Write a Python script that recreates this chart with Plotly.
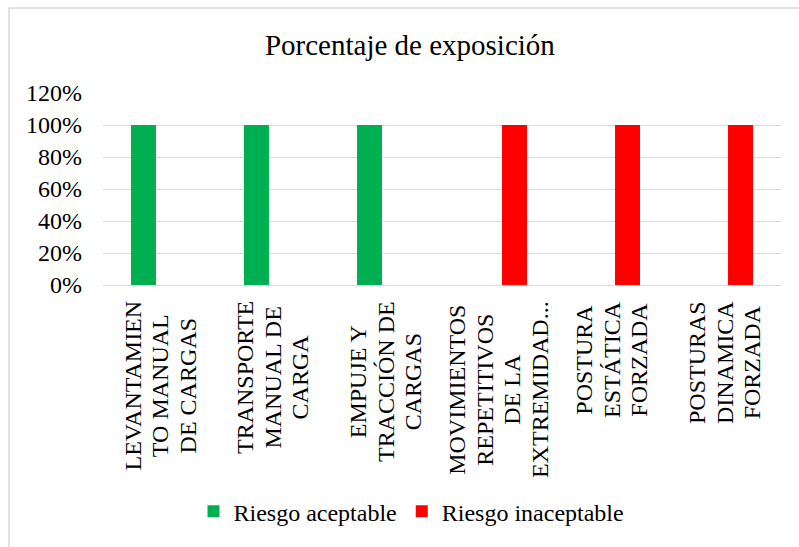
import plotly.graph_objects as go

categories = ["LEVANTAMIEN<br>TO MANUAL<br>DE CARGAS",
              "TRANSPORTE<br>MANUAL DE<br>CARGA",
              "EMPUJE Y<br>TRACCIÓN DE<br>CARGAS",
              "MOVIMIENTOS<br>REPETITIVOS<br>DE LA<br>EXTREMIDAD...",
              "POSTURA<br>ESTÁTICA<br>FORZADA",
              "POSTURAS<br>DINAMICA<br>FORZADA"]
cat_keys = ["c1", "c2", "c3", "c4", "c5", "c6"]
aceptable = [1.0, 1.0, 1.0, 0, 0, 0]
inaceptable = [0, 0, 0, 1.0, 1.0, 1.0]
series_names = ["Riesgo aceptable", "Riesgo inaceptable"]
colors = ["#00B050", "#FF0000"]

FONT = "Liberation Serif, Times New Roman, serif"

fig = go.Figure()
for name, vals, col in zip(series_names, [aceptable, inaceptable], colors):
    fig.add_trace(go.Bar(x=cat_keys, y=vals, name=name, marker=dict(color=col, line=dict(width=0))))

for k, lab in zip(cat_keys, categories):
    styled = "<br>".join('<span style="font-size:24px">%s</span>' % ln for ln in lab.split("<br>"))
    fig.add_annotation(x=k, xref="x", y=0, yref="paper", text=styled, textangle=-90,
                       showarrow=False, yanchor="top", xanchor="center", align="center",
                       yshift=-14, font=dict(family=FONT, size=21.2, color="#000000"))

fig.add_shape(type="rect", xref="paper", yref="paper", x0=-0.1386, x1=1.2, y0=-2.0, y1=1.443,
              line=dict(color="#d9d9d9", width=1.5), fillcolor="rgba(0,0,0,0)", layer="below")

fig.update_layout(
    width=799, height=547,
    margin=dict(l=103, r=18, t=93, b=260),
    paper_bgcolor="white", plot_bgcolor="white",
    barmode="group", bargap=0.433, bargroupgap=0.22,
    title=dict(text="Porcentaje de exposición", x=0.513, xref="container", xanchor="center",
               y=1 - 45 / 547, yref="container", yanchor="middle",
               font=dict(family=FONT, size=29, color="#000000")),
    font=dict(family=FONT, size=24, color="#000000"),
    xaxis=dict(type="category", showticklabels=False, showgrid=False, zeroline=False,
               showline=False, ticks="", range=[-0.5, 5.5]),
    yaxis=dict(range=[0, 1.2], dtick=0.2, tick0=0, tickformat=".0%", showgrid=True,
               gridcolor="#d9d9d9", gridwidth=1.3, zeroline=True, zerolinecolor="#d9d9d9",
               zerolinewidth=1.3, showline=False, ticks="", ticklabelstandoff=20,
               tickfont=dict(family=FONT, size=24, color="#000000")),
    showlegend=True,
    legend=dict(orientation="h", x=0.455, xanchor="center", y=-1.18, yanchor="middle",
                itemwidth=30, tracegroupgap=0,
                font=dict(family=FONT, size=24, color="#000000"), bgcolor="rgba(0,0,0,0)"),
)

fig.write_html("out.html")
